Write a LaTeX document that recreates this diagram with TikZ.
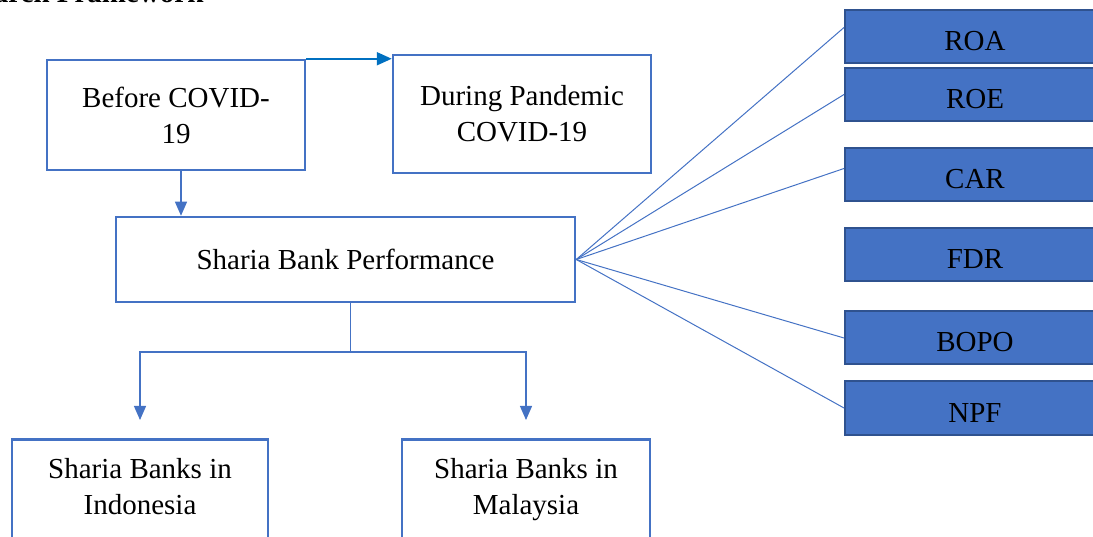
\documentclass[tikz,border=0pt]{standalone}
\usepackage{fontspec}
\setmainfont{Liberation Serif}
\usetikzlibrary{arrows.meta}
\definecolor{boxblue}{HTML}{4472C4}
\definecolor{darkblue}{HTML}{2F528F}
\definecolor{arrowblue}{HTML}{0070C0}
\begin{document}
\begin{tikzpicture}[x=1pt,y=-1pt,
  font=\fontsize{29}{36}\selectfont,
  outbox/.style={draw=boxblue,line width=2.5pt,align=center,inner sep=0pt},
  ratio/.style={fill=boxblue,draw=darkblue,line width=2pt,minimum width=260pt,minimum height=53pt,inner sep=0pt,text height=28pt,text depth=0pt},
  conn/.style={boxblue,line width=1pt},
  down/.style={boxblue,line width=1.2pt,-{Triangle[width=12pt,length=14pt]}}]
\useasboundingbox (0,0) rectangle (1093,537);
\node[font=\fontsize{29}{36}\selectfont\bfseries,anchor=base east] (title) at (207,3) {Research Framework};
% top row
\node[outbox,minimum width=258pt,minimum height=110pt] (before) at (176,115) {Before COVID-\\19};
\node[outbox,minimum width=258pt,minimum height=118pt] (during) at (522,114) {During Pandemic\\COVID-19};
\draw[arrowblue,line width=2pt,-{Triangle[width=13pt,length=15pt]}] (before.north east) -- (before.north east -| during.west);
% performance
\node[outbox,minimum width=459pt,minimum height=85pt] (perf) at (345.5,259.5) {Sharia Bank Performance};
\draw[down] (before.south -| 181,0) -- (perf.north -| 181,0);
% countries
\node[outbox,minimum width=256pt,minimum height=140pt,anchor=north] (indo) at (140,438) {};
\node[align=center,anchor=north,inner sep=0pt] (indotext) at ([yshift=-20pt]indo.north) {Sharia Banks in\\Indonesia};
\node[outbox,minimum width=248pt,minimum height=140pt,anchor=north] (malay) at (526,438) {};
\node[align=center,anchor=north,inner sep=0pt] (malaytext) at ([yshift=-20pt]malay.north) {Sharia Banks in\\Malaysia};
\coordinate (split) at (350,352);
\draw[conn] (perf.south -| split) -- (split);
\draw[down] (split) -| ([yshift=18pt]indo.north);
\draw[down] (split) -| ([yshift=18pt]malay.north);
% ratios
\node[ratio] (roa) at (975,36.5) {ROA};
\node[ratio] (roe) at (975,94.5) {ROE};
\node[ratio] (car) at (975,174.5) {CAR};
\node[ratio] (fdr) at (975,254.5) {FDR};
\node[ratio] (bopo) at (975,338) {BOPO};
\node[ratio] (npf) at (975,408) {NPF};
\draw[conn] (perf.east) -- ([yshift=9pt]roa.west);
\draw[conn] (perf.east) -- (roe.west);
\draw[conn] (perf.east) -- ([yshift=6pt]car.west);
\draw[conn] (perf.east) -- (bopo.west);
\draw[conn] (perf.east) -- (npf.west);
\end{tikzpicture}
\end{document}
